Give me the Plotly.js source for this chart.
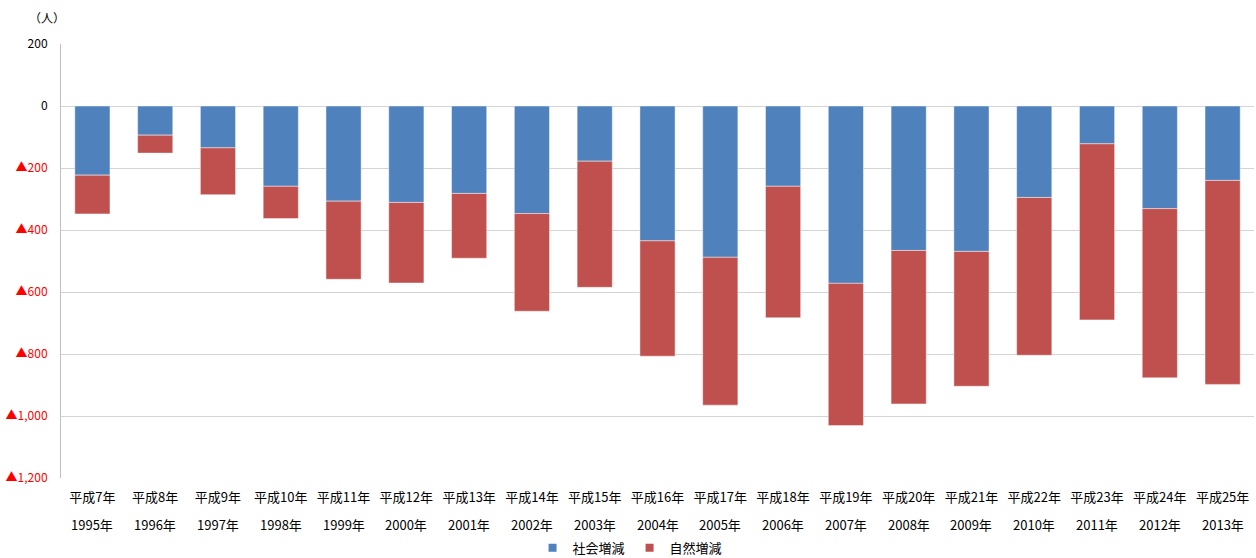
<!DOCTYPE html>
<html>
<head>
<meta charset="utf-8">
<script src="https://cdn.plot.ly/plotly-3.0.1.min.js"></script>
<style>html,body{margin:0;padding:0;background:#fff;}#chart{width:1256px;height:558px;}</style>
</head>
<body>
<div id="chart"></div>
<script>
var heiseiLabels = ["平成7年","平成8年","平成9年","平成10年","平成11年","平成12年","平成13年","平成14年","平成15年","平成16年","平成17年","平成18年","平成19年","平成20年","平成21年","平成22年","平成23年","平成24年","平成25年"];
var yearLabels = ["1995年","1996年","1997年","1998年","1999年","2000年","2001年","2002年","2003年","2004年","2005年","2006年","2007年","2008年","2009年","2010年","2011年","2012年","2013年"];
var socialChange = [-223,-94,-135,-259,-307,-311,-282,-347,-178,-435,-488,-259,-572,-466,-469,-295,-122,-331,-240];
var naturalChange = [-125,-58,-151,-104,-252,-260,-209,-315,-407,-372,-477,-424,-459,-495,-435,-509,-568,-546,-658];
var seriesNames = ["社会増減","自然増減"];
var seriesColors = ["#4F81BD","#C0504D"];
var yTickVals = [200,0,-200,-400,-600,-800,-1000,-1200];
var yTickText = ["200","0","▲200","▲400","▲600","▲800","▲1,000","▲1,200"];

var font = "'Noto Sans CJK JP', 'Noto Sans', sans-serif";
var idx = heiseiLabels.map(function(_, i){ return i; });

var traces = [
  {type:'bar', name:seriesNames[0], x:idx, y:socialChange, showlegend:false,
   marker:{color:seriesColors[0], line:{color:'rgba(255,255,255,0.45)', width:1}}, hoverinfo:'y'},
  {type:'bar', name:seriesNames[1], x:idx, y:naturalChange, showlegend:false,
   marker:{color:seriesColors[1], line:{color:'rgba(255,255,255,0.45)', width:1}}, hoverinfo:'y'},
  {type:'scatter', mode:'markers', name:seriesNames[0], x:[null], y:[null], showlegend:true,
   marker:{symbol:'square', size:8, color:seriesColors[0]}},
  {type:'scatter', mode:'markers', name:seriesNames[1], x:[null], y:[null], showlegend:true,
   marker:{symbol:'square', size:8, color:seriesColors[1]}}
];

var annotations = yearLabels.map(function(t, i){
  return {x:i, xref:'x', y:-0.106, yref:'paper', yanchor:'middle', xanchor:'center',
          text:t, showarrow:false, font:{family:font, size:13, color:'#000'}};
});
annotations.push({x:-0.012, xref:'paper', y:1.062, yref:'paper', xanchor:'center', yanchor:'middle',
  text:'（人）', showarrow:false, font:{family:font, size:12, color:'#000'}});

var tickText = yTickText.map(function(t, i){
  return yTickVals[i] < 0 ? '<span style="color:#FF0000">' + t + '</span>' : t;
});

var layout = {
  width:1256, height:558,
  margin:{l:61, r:2, t:44, b:80, autoexpand:false},
  paper_bgcolor:'#fff', plot_bgcolor:'#fff',
  barmode:'relative', bargap:0.44,
  font:{family:font, size:12, color:'#000'},
  xaxis:{tickvals:idx, ticktext:heiseiLabels, range:[-0.5, 18.5],
         ticks:'outside', ticklen:7, tickcolor:'rgba(0,0,0,0)',
         showgrid:false, zeroline:false, showline:false, automargin:false,
         tickfont:{family:font, size:13, color:'#000'}, fixedrange:true},
  yaxis:{range:[-1200, 200], tickvals:yTickVals, ticktext:tickText,
         showgrid:true, gridcolor:'#D4D4D4', gridwidth:1,
         zeroline:false, showline:true, linecolor:'#BFBFBF', linewidth:1,
         ticks:'', ticklabelstandoff:10, automargin:false,
         tickfont:{family:font, size:12, color:'#000'}, fixedrange:true},
  legend:{orientation:'h', x:0.477, xanchor:'center', y:-0.161, yanchor:'middle',
          font:{family:font, size:13, color:'#000'}, traceorder:'normal', itemwidth:30,
          itemclick:false},
  annotations:annotations
};

Plotly.newPlot('chart', traces, layout, {displayModeBar:false, staticPlot:true});
</script>
</body>
</html>
